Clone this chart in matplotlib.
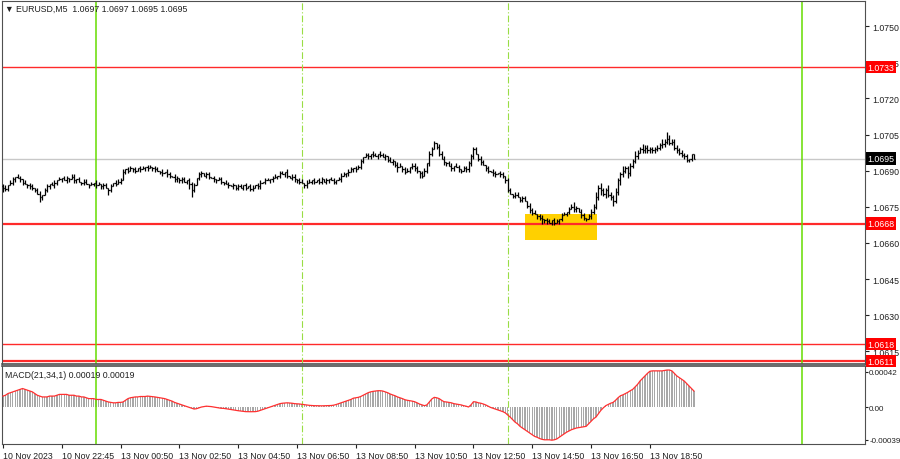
import matplotlib
matplotlib.use("Agg")
import matplotlib.pyplot as plt
import matplotlib.transforms as mtransforms
from matplotlib.collections import LineCollection
from matplotlib.patches import Rectangle
import numpy as np

# close price, pips above 1.0600, one row = one hour of M5 bars
close_pips = [
    83, 82.5, 84, 85, 86.5, 87.5, 87, 86.5, 85, 84.5, 84, 83.5,
    83, 82, 80.5, 79, 80, 82, 83.5, 84.5, 84, 85, 86, 86.5,
    87, 86, 87, 86.5, 87.5, 86, 86.5, 85.5, 85, 85.5, 84.5, 84,
    84.5, 85, 84, 84.5, 83.5, 84, 83, 82, 83.5, 85, 84.5, 85.5,
    86, 89.5, 90.5, 90, 91, 90.5, 90, 91, 90.5, 91, 91.5, 91,
    91.5, 91, 90.5, 90, 89.5, 89, 89.5, 88.5, 88, 87.5, 86.5, 87,
    86, 86.5, 85.5, 86, 84.5, 82, 84, 87, 88.5, 89, 88, 88.5,
    87.5, 87, 86.5, 86, 86.5, 85.5, 85, 84.5, 84, 83.5, 84, 83,
    83.5, 83, 84, 83, 83.5, 82.5, 83, 84, 83.5, 85, 85.5, 86,
    86, 86.5, 87, 87.5, 88, 89, 88.5, 89.5, 88, 87, 87.5, 86.5,
    86, 85.5, 85, 84, 85, 85.5, 86, 85.5, 86, 85.5, 86.5, 85.5,
    86, 86.5, 86, 85.5, 86, 86.5, 88, 88.5, 89, 89.5, 90.5, 91,
    90.5, 91.5, 94, 95.5, 96.5, 96, 97, 96.5, 96, 97, 96.5, 95.5,
    96, 94.5, 93.5, 94, 92.5, 91.5, 92, 90.5, 89.5, 90, 91.5, 92,
    91, 90, 89, 88, 90, 93, 97, 99, 101.5, 100, 97, 95,
    93.5, 93, 92, 91, 92, 91.5, 90.5, 90, 91, 90.5, 93, 96,
    99, 97, 95, 93.5, 92.5, 91, 90, 89.5, 89, 88.5, 89, 88.5,
    88, 86, 82, 80.5, 79.5, 80, 79, 78, 78.5, 77.5, 75.5, 73.5,
    72.5, 72, 71, 70.5, 70, 69.5, 69, 68.5, 69.5, 68.5, 69, 70,
    71.5, 72, 73, 74, 75, 74, 74.5, 73, 71.5, 70.5, 70, 71,
    73, 75, 79, 83, 82, 80.5, 82, 80, 79, 77.5, 81, 86,
    88.5, 90, 91, 89, 92, 94, 96, 97.5, 99, 98.5, 99.5, 98.5,
    99, 98.5, 99, 99.5, 100.5, 101, 102, 103, 101.5, 102, 99.5, 98.5,
    97.5, 96.5, 96, 94.5, 95, 97, 95,
]

# wick beyond the body, pips
hi_ext = [
    1, 1, 0, 1, 1, 0, 1, 1, 0, 1, 0, 1,
    1, 0, 1, 1, 0, 1, 1, 0, 1, 1, 0, 1,
    0, 1, 1, 0, 1, 1, 0, 1, 0, 1, 1, 0,
    1, 0, 1, 1, 0, 1, 1, 0, 1, 0, 1, 1,
    1, 1, 0, 1, 1, 0, 1, 0, 1, 1, 0, 1,
    1, 0, 1, 1, 0, 1, 0, 1, 1, 0, 1, 1,
    0, 1, 1, 0, 1, 1, 1, 0, 1, 1, 0, 1,
    1, 0, 1, 0, 1, 1, 0, 1, 1, 0, 1, 0,
    1, 1, 0, 1, 0, 1, 1, 0, 1, 1, 0, 1,
    1, 0, 1, 1, 0, 1, 1, 0, 1, 0, 1, 1,
    0, 1, 1, 0, 1, 1, 0, 1, 0, 1, 1, 0,
    1, 0, 1, 1, 0, 1, 1, 1, 0, 1, 1, 0,
    1, 1, 1, 0, 1, 1, 0, 1, 1, 0, 1, 1,
    1, 0, 1, 1, 0, 1, 1, 0, 1, 1, 0, 1,
    1, 1, 0, 1, 1, 0, 1, 1, 1, 0, 1, 1,
    1, 0, 1, 1, 0, 1, 1, 0, 1, 1, 1, 1,
    1, 1, 0, 1, 1, 0, 1, 0, 1, 1, 0, 1,
    1, 0, 1, 1, 0, 1, 1, 0, 1, 1, 0, 1,
    1, 1, 0, 1, 1, 0, 1, 1, 0, 1, 1, 0,
    1, 1, 0, 1, 1, 2, 1, 0, 1, 1, 0, 1,
    1, 1, 2, 1, 2, 1, 1, 2, 1, 1, 2, 1,
    1, 2, 1, 1, 1, 1, 2, 1, 1, 2, 1, 1,
    1, 1, 1, 1, 1, 2, 1, 3, 2, 1, 1, 1,
    1, 1, 1, 1, 0, 0, 0,
]
lo_ext = [
    2, 1, 1, 0, 1, 1, 0, 1, 1, 0, 1, 1,
    1, 1, 0, 2, 1, 0, 1, 1, 0, 1, 1, 0,
    1, 0, 1, 1, 0, 1, 1, 0, 1, 1, 0, 1,
    0, 1, 1, 0, 1, 1, 0, 2, 1, 0, 1, 0,
    1, 0, 1, 1, 0, 1, 1, 0, 1, 0, 1, 1,
    0, 1, 1, 0, 1, 1, 0, 1, 1, 0, 1, 1,
    1, 1, 0, 1, 2, 3, 1, 0, 1, 1, 0, 1,
    1, 0, 1, 1, 0, 1, 1, 0, 1, 0, 1, 1,
    1, 0, 1, 1, 0, 1, 1, 0, 1, 1, 0, 1,
    0, 1, 1, 0, 1, 1, 0, 1, 1, 0, 1, 1,
    1, 1, 0, 1, 1, 0, 1, 1, 0, 1, 1, 0,
    1, 1, 0, 1, 1, 0, 1, 0, 1, 1, 0, 1,
    1, 0, 1, 1, 0, 1, 1, 1, 0, 1, 1, 0,
    1, 1, 0, 1, 1, 2, 0, 1, 1, 0, 1, 1,
    1, 1, 2, 1, 0, 1, 1, 1, 0, 1, 1, 0,
    1, 1, 0, 1, 1, 0, 1, 1, 0, 1, 1, 1,
    1, 0, 1, 1, 0, 1, 1, 0, 1, 1, 0, 1,
    1, 1, 1, 0, 1, 1, 0, 1, 1, 0, 1, 1,
    1, 0, 1, 1, 2, 1, 1, 0, 1, 1, 0, 1,
    1, 0, 1, 1, 0, 1, 1, 0, 1, 1, 1, 0,
    1, 1, 1, 1, 2, 1, 2, 1, 1, 2, 1, 1,
    2, 1, 1, 2, 1, 1, 1, 1, 0, 1, 1, 1,
    1, 1, 1, 1, 1, 1, 1, 1, 1, 1, 1, 1,
    1, 1, 1, 1, 1, 1, 0,
]

# MACD(21,34,1) main value, units of 1e-5
macd_e5 = [
    13, 14, 16, 17, 18, 19, 20, 21, 22, 21, 20, 19,
    18, 16, 14, 13, 12, 12, 12, 13, 13, 13, 14, 15,
    15, 15, 15, 14, 14, 14, 13, 13, 12, 12, 11, 10,
    10, 10, 9, 9, 9, 8, 7, 6, 5.5, 5, 5, 5.5,
    5.5, 6, 8, 10, 11, 11.5, 12, 12, 12.5, 12.5, 12.5, 13,
    12.7, 12.5, 12, 11.5, 11, 10.5, 10, 9, 8, 7, 5.5, 4.5,
    3.5, 2.5, 1.6, 0.5, -0.5, -1.5, -2.4, -2, -1, 0, 0.5, 1,
    0.8, 0.5, 0, -0.5, -1, -1.5, -1.6, -2, -2.5, -3, -3.5, -4,
    -4.4, -4.8, -5.2, -5.5, -5.6, -5.6, -5.6, -5.5, -5, -4, -3, -2,
    -1, 0, 1, 2, 3, 4, 4.5, 4.8, 5, 4.8, 4.5, 4,
    3.8, 3.6, 3.2, 2.8, 2.4, 2, 1.8, 1.6, 1.6, 1.5, 1.4, 1.5,
    1.6, 1.6, 1.8, 2.2, 3, 4, 5, 6, 7, 8, 9, 10.5,
    11, 11.5, 12.5, 14, 15.5, 17, 18, 18.6, 19, 19.4, 19.4, 19,
    18, 17, 15.5, 14.5, 13.4, 12, 11, 10, 8.7, 8, 7.5, 7,
    6.3, 5, 3.5, 2.5, 1.6, 2.5, 6, 9.5, 11.5, 11, 10, 8,
    6.3, 6, 5.5, 5, 4, 3.5, 3, 2.5, 1.6, 1, 0, 2.5,
    6.3, 6, 5, 4.5, 3.6, 2.5, 1, -0.5, -1.5, -2.4, -3.5, -4.5,
    -5.5, -7, -9.5, -12, -15, -18, -20, -23, -25, -27, -29, -31,
    -33, -35, -36, -37.5, -38.5, -39, -39, -39, -39.5, -39, -38, -36,
    -34, -32, -30, -28.5, -27, -26, -25, -24.5, -24, -23.5, -23, -20,
    -17, -14, -12, -8, -4, -1, 1.6, 3, 4.5, 5.5, 8, 11,
    13.4, 14.5, 16, 17.5, 19.4, 21, 24, 27, 31, 34, 37, 40,
    42.5, 43, 43, 43, 43, 43, 43.5, 44, 44, 43, 40, 37,
    35, 33, 31, 28, 25, 22, 19,
]

time_labels = ["10 Nov 2023", "10 Nov 22:45", "13 Nov 00:50", "13 Nov 02:50",
               "13 Nov 04:50", "13 Nov 06:50", "13 Nov 08:50", "13 Nov 10:50",
               "13 Nov 12:50", "13 Nov 14:50", "13 Nov 16:50", "13 Nov 18:50"]
time_label_bars = [0, 24, 48, 72, 96, 120, 144, 168, 192, 216, 240, 264]

price_ticks = [1.0750, 1.0735, 1.0720, 1.0705, 1.0690, 1.0675, 1.0660, 1.0645, 1.0630, 1.0615]
red_levels = [1.0733, 1.0668, 1.0618, 1.0611]
red_widths = [1.0, 1.6, 1.0, 1.6]
last_price = 1.0695
day_bars = [38, 326]
session_bars = [122, 206]
zone_bars = [213, 242.5]
zone_prices = [1.06612, 1.0672]

closes = 1.06 + np.array(close_pips) / 10000
opens = np.r_[closes[0] + 0.00005, closes[:-1]]
highs = np.maximum(opens, closes) + np.array(hi_ext) / 10000
lows = np.minimum(opens, closes) - np.array(lo_ext) / 10000
macd = np.array(macd_e5) * 1e-5
idx = np.arange(len(closes))

plt.rcParams['font.family'] = ['Liberation Sans', 'DejaVu Sans']
fs = 6.3
fig = plt.figure(figsize=(9, 4.6), dpi=100)
ax = fig.add_axes([2 / 900, 95 / 460, 863 / 900, 363 / 460])
mx = fig.add_axes([2 / 900, 15 / 460, 863 / 900, 78 / 460])

xmin, xmax = -0.4, 351.8
edge = '#505050'

# price panel
ax.add_patch(Rectangle((zone_bars[0], zone_prices[0]), zone_bars[1] - zone_bars[0],
                       zone_prices[1] - zone_prices[0], color='#ffd000', zorder=1, lw=0))
ax.axhline(last_price, color='#c8c8c8', lw=1, zorder=1.5)
for lvl, w in zip(red_levels, red_widths):
    ax.axhline(lvl, color='#ff2a2a', lw=w, zorder=2)

segs = []
for i in idx:
    segs.append([(i, lows[i]), (i, highs[i])])
    segs.append([(i - 0.5, opens[i]), (i, opens[i])])
    segs.append([(i, closes[i]), (i + 0.5, closes[i])])
ax.add_collection(LineCollection(segs, colors='black', linewidths=0.9, zorder=3))

for a in (ax, mx):
    for b in day_bars:
        a.axvline(b, color='#66dd00', lw=1.1, zorder=2.5)
    for b in session_bars:
        a.axvline(b, color='#99dd44', lw=0.8, ls=(0, (6, 2, 1, 2)), zorder=2.5)
    a.set_xlim(xmin, xmax)
    for s in a.spines.values():
        s.set_color(edge)
    a.yaxis.tick_right()
    a.tick_params(axis='y', length=3, labelsize=fs, colors='#202020', pad=2)

ax.set_ylim(1.06098, 1.07604)
ax.set_yticks(price_ticks)
ax.set_yticklabels([f"{t:.4f}" for t in price_ticks])
ax.set_xticks([])
ax.spines['bottom'].set_linewidth(1.2)

trans = mtransforms.blended_transform_factory(ax.transAxes, ax.transData)
for lvl in red_levels:
    ax.text(1.003, lvl, f"{lvl:.4f}", transform=trans, fontsize=fs, color='white',
            va='center', ha='left', zorder=5,
            bbox=dict(boxstyle='square,pad=0.2', fc='#ff0000', ec='none'))
ax.text(1.003, last_price, f"{last_price:.4f}", transform=trans, fontsize=fs, color='white',
        va='center', ha='left', zorder=5,
        bbox=dict(boxstyle='square,pad=0.2', fc='#000000', ec='none'))

ax.text(0.004, 0.993, "\u25bc EURUSD,M5  1.0697 1.0697 1.0695 1.0695", transform=ax.transAxes,
        fontsize=fs, va='top', ha='left', color='#202020')

# MACD panel
mx.bar(idx, macd, width=0.55, color='#a8a8a8', zorder=2)
mx.plot(idx, macd, color='#ff3030', lw=0.9, zorder=3)
mx.set_ylim(-44e-5, 48.8e-5)
mx.set_yticks([42e-5, 0, -39e-5])
mx.set_yticklabels(["0.00042", "0.00", "-0.00039"])
mx.tick_params(axis='y', length=2, labelsize=5.8, pad=1)
mx.spines['top'].set_linewidth(1.2)
mx.text(0.004, 0.95, "MACD(21,34,1) 0.00019 0.00019", transform=mx.transAxes,
        fontsize=fs, va='top', ha='left', color='#202020')

mx.set_xticks(time_label_bars)
mx.set_xticklabels(time_labels, ha='left')
mx.tick_params(axis='x', length=3, labelsize=fs, colors='#202020', pad=2)

fig.savefig("out.png", dpi=100, facecolor='white')
